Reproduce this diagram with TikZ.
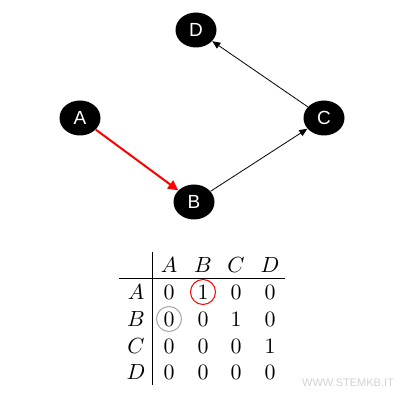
\documentclass[tikz,border=0pt]{standalone}
\usepackage{fontspec}
\newfontfamily\labelfont{Liberation Sans}
\usetikzlibrary{arrows.meta,shapes.geometric}

\begin{document}
\begin{tikzpicture}[
    x=0.5pt, y=-0.5pt,
    font=\fontsize{10.5}{12}\selectfont,
    >={Triangle[length=4pt,width=3.4pt]},
    vertex/.style={
        ellipse,
        fill=black,
        text=white,
        font=\labelfont\fontsize{9.5}{11}\selectfont,
        minimum width=20.5pt,
        minimum height=17.5pt,
        inner sep=0pt
    },
    entry/.style={
        circle,
        inner sep=0pt,
        minimum size=12.5pt
    },
    redring/.style={draw=red, line width=0.5pt},
    grayring/.style={draw=gray!70, line width=0.5pt}
]

\useasboundingbox (0,0) rectangle (407,400);

% graph
\node[vertex] (D) at (196, 30) {D};
\node[vertex] (A) at ( 80,118) {A};
\node[vertex] (B) at (194,202) {B};
\node[vertex] (C) at (324,118) {C};

\draw[->, red, line width=1pt, >={Triangle[length=5pt,width=5pt]}] (A) -- (B);
\draw[->] (B) -- (C);
\draw[->] (C) -- (D);

% adjacency matrix
\coordinate (vtop)   at (152,252);
\coordinate (vbot)   at (152,385);
\coordinate (hleft)  at (119,278);
\coordinate (hright) at (285,278);

\draw (vtop) -- (vbot);
\draw (hleft) -- (hright);

\node (colA) at (169,265) {$A$};
\node (colB) at (203,265) {$B$};
\node (colC) at (236,265) {$C$};
\node (colD) at (270,265) {$D$};

\node (rowA) at (136,292) {$A$};
\node (rowB) at (136,319) {$B$};
\node (rowC) at (136,346) {$C$};
\node (rowD) at (136,372) {$D$};

\node[entry] (aa) at (169,292) {$0$};
\node[entry, redring] (ab) at (203,292) {$1$};
\node[entry] (ac) at (236,292) {$0$};
\node[entry] (ad) at (270,292) {$0$};

\node[entry, grayring] (ba) at (169,319) {$0$};
\node[entry] (bb) at (203,319) {$0$};
\node[entry] (bc) at (236,319) {$1$};
\node[entry] (bd) at (270,319) {$0$};

\node[entry] (ca) at (169,346) {$0$};
\node[entry] (cb) at (203,346) {$0$};
\node[entry] (cc) at (236,346) {$0$};
\node[entry] (cd) at (270,346) {$1$};

\node[entry] (da) at (169,372) {$0$};
\node[entry] (db) at (203,372) {$0$};
\node[entry] (dc) at (236,372) {$0$};
\node[entry] (dd) at (270,372) {$0$};

% watermark
\node[text=gray!35, font=\labelfont\fontsize{5.5}{6}\selectfont] (wm) at (348,383) {WWW.STEMKB.IT};

\end{tikzpicture}
\end{document}
